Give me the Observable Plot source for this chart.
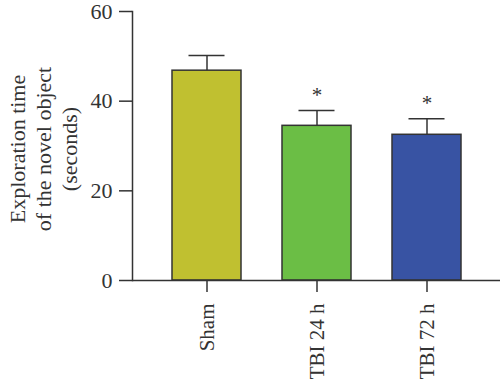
<!DOCTYPE html>
<html><head><meta charset="utf-8">
<script src="https://cdn.jsdelivr.net/npm/d3@7"></script>
<script src="https://cdn.jsdelivr.net/npm/@observablehq/plot@0.6"></script>
<style>body{margin:0;background:#fff}</style>
</head><body><div id="chart"></div>
<script>
const groups = ["Sham", "TBI 24 h", "TBI 72 h"];
const means = [46.8, 34.5, 32.5];
const errors = [3.4, 3.4, 3.6];
const stars = ["", "*", "*"];
const colors = ["#c0c030", "#6bbe45", "#3853a3"];
const yTicks = [0, 20, 40, 60];
const yLabel = "Exploration time\nof the novel object\n(seconds)";

const data = groups.map((g, i) => ({g, m: means[i], e: means[i] + errors[i], s: stars[i]}));
const font = "'Liberation Serif', 'DejaVu Serif', serif";

const chart = Plot.plot({
  width: 500, height: 381,
  marginLeft: 132, marginRight: 0, marginTop: 11, marginBottom: 101,
  style: {fontFamily: font, fontSize: "22px", color: "#333", background: "#fff"},
  x: {domain: groups, paddingInner: 0.373, paddingOuter: 0.35, label: null},
  y: {domain: [0, 60], label: null},
  color: {domain: groups, range: colors},
  marks: [
    Plot.ruleX(data, {x: "g", y1: "m", y2: "e", stroke: "#333", strokeWidth: 1.5}),
    Plot.tickY(data, {x: "g", y: "e", stroke: "#333", strokeWidth: 1.5, insetLeft: 16.5, insetRight: 16.5}),
    Plot.barY(data, {x: "g", y: "m", fill: "g", stroke: "#333", strokeWidth: 1.5}),
    Plot.text(data, {x: "g", y: "e", text: "s", dy: -15, fontSize: 21, fontFamily: font, fill: "#333"}),
    Plot.axisY({ticks: yTicks, tickSize: 13, tickPadding: 7, tickFormat: d => d, label: null, stroke: "#333", strokeWidth: 1.5, fontSize: 22, fontFamily: font, fill: "#333"}),
    Plot.axisX({tickSize: 12, tickPadding: 11, tickRotate: -90, label: null, stroke: "#333", strokeWidth: 1.5, fontSize: 21, fontFamily: font, fill: "#333"}),
    Plot.frame({anchor: "left", stroke: "#333", strokeWidth: 1.5}),
    Plot.ruleY([0], {stroke: "#333", strokeWidth: 1.5}),
    Plot.text([yLabel], {frameAnchor: "left", rotate: -90, dx: -90, dy: 3, lineHeight: 1.2, fontSize: 22, fontFamily: font, fill: "#333", textAnchor: "middle"})
  ]
});
document.getElementById("chart").append(chart);
</script>
</body></html>
